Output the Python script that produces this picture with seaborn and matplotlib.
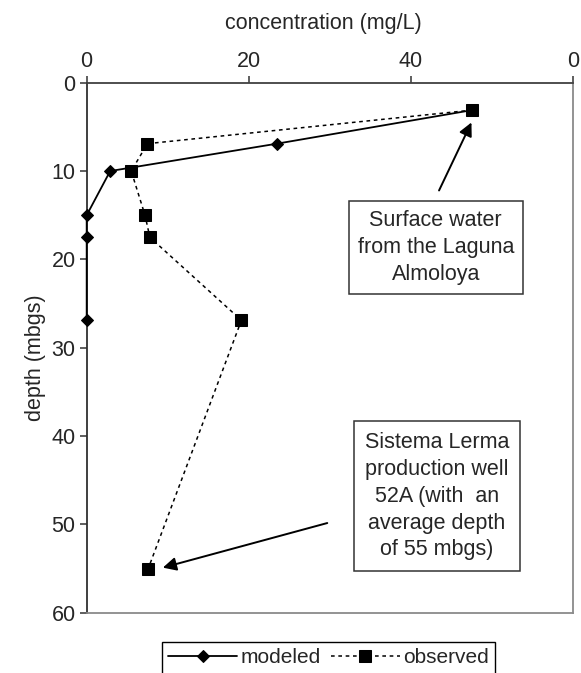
"""Depth profile of modeled vs observed concentration (Laguna Almoloya / Sistema Lerma)."""

import matplotlib

matplotlib.use("Agg")
import matplotlib.pyplot as plt
import pandas as pd
import seaborn as sns

# values
modeled_conc = [47.6, 23.5, 2.9, 0.0, 0.0, 0.0]
modeled_depth = [3.1, 6.9, 10.0, 15.0, 17.5, 26.9]
observed_conc = [47.6, 7.5, 5.5, 7.2, 7.8, 19.1, 7.6]
observed_depth = [3.1, 6.9, 10.0, 15.0, 17.5, 26.9, 55.0]

x_ticks = [0, 20, 40, 60]
x_tick_labels = ["0", "20", "40", "0"]
y_ticks = [0, 10, 20, 30, 40, 50, 60]

surface_note = "Surface water\nfrom the Laguna\nAlmoloya"
well_note = "Sistema Lerma\nproduction well\n52A (with  an\naverage depth\nof 55 mbgs)"

FS = 15.5

sns.set_style("white")
plt.rcParams["font.family"] = ["Liberation Sans", "DejaVu Sans"]
plt.rcParams["font.size"] = FS

modeled = pd.DataFrame({"conc": modeled_conc, "depth": modeled_depth})
observed = pd.DataFrame({"conc": observed_conc, "depth": observed_depth})

fig = plt.figure(figsize=(5.81, 6.73), dpi=100)
ax = fig.add_axes([0.1492, 0.0896, 0.8365, 0.7875])

sns.lineplot(
    data=modeled, x="conc", y="depth", sort=False, estimator=None,
    color="black", lw=1.3, marker="D", markersize=6.3,
    markerfacecolor="black", markeredgecolor="black", label="modeled",
    legend=False, ax=ax,
)
sns.lineplot(
    data=observed, x="conc", y="depth", sort=False, estimator=None,
    color="black", lw=1.1, marker="s", markersize=8,
    markerfacecolor="black", markeredgecolor="black", label="observed",
    legend=False, ax=ax,
)
lines = ax.get_lines()[:2]
lines[1].set_linestyle((0, (2.4, 2.4)))
for z, ln in zip([5, 6], lines):
    ln.set_clip_on(False)
    ln.set_zorder(z)

ax.set_xlim(0, 60)
ax.set_ylim(60, 0)
ax.xaxis.tick_top()
ax.xaxis.set_label_position("top")
ax.set_xticks(x_ticks)
ax.set_xticklabels(x_tick_labels)
ax.set_yticks(y_ticks)
ax.tick_params(axis="both", direction="out", length=5, width=1.1,
               color="#333333", labelsize=FS, pad=3)
ax.tick_params(axis="x", bottom=False, top=True)
ax.tick_params(axis="y", left=True, right=False)

ax.set_xlabel("concentration (mg/L)", fontsize=FS)
ax.set_ylabel("depth (mbgs)", fontsize=FS)
ax.xaxis.label.set_va("center")
ax.yaxis.label.set_va("center")
ax.xaxis.set_label_coords(0.488, 1.111)
ax.yaxis.set_label_coords(-0.105, 0.482)

for side, col in [("top", "#404040"), ("left", "#303030"),
                  ("right", "#8a8a8a"), ("bottom", "#8a8a8a")]:
    ax.spines[side].set_visible(True)
    ax.spines[side].set_color(col)
    ax.spines[side].set_linewidth(1.3)

box = dict(boxstyle="square,pad=0.42", facecolor="white", edgecolor="#333333", lw=1.1)
ax.text(43.1, 18.66, surface_note, ha="center", va="center", fontsize=FS,
        linespacing=1.4, bbox=box)
box2 = dict(box, boxstyle="square,pad=0.5")
ax.text(43.25, 46.8, well_note, ha="center", va="center", fontsize=FS,
        linespacing=1.37, bbox=box2)

arrow = dict(arrowstyle="-|>", color="black", lw=1.4, mutation_scale=20,
             shrinkA=0, shrinkB=0)
ax.annotate("", xy=(47.5, 4.5), xytext=(43.5, 12.2), arrowprops=arrow)
ax.annotate("", xy=(9.4, 54.9), xytext=(29.7, 49.85), arrowprops=arrow)

fig.legend(
    handles=lines, labels=["modeled", "observed"],
    loc="upper left", bbox_to_anchor=(162 / 581, 1 - 642 / 673), ncol=2,
    frameon=True, fancybox=False, edgecolor="black", framealpha=1,
    handlelength=3.3, handletextpad=0.15, columnspacing=0.5,
    borderpad=0.3, borderaxespad=0, fontsize=15,
)

fig.savefig("out.png", dpi=100)
